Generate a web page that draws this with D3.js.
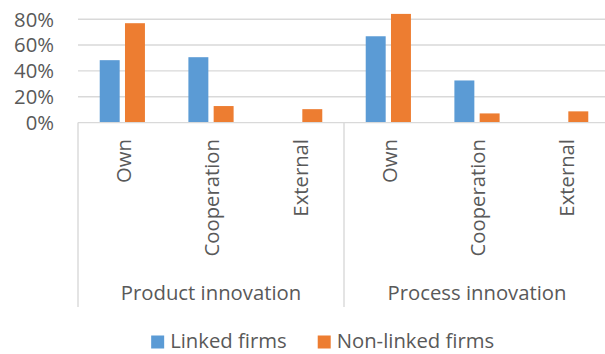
<!DOCTYPE html>
<html>
<head>
<meta charset="utf-8">
<script src="https://cdn.jsdelivr.net/npm/d3@7"></script>
<style>
  html, body { margin: 0; padding: 0; background: #fff; }
  text { font-family: "Open Sans", sans-serif; fill: #595959; }
</style>
</head>
<body>
<div id="chart"></div>
<script>
// data
const groups = ["Product innovation", "Process innovation"];
const categories = ["Own", "Cooperation", "External"];
const series = ["Linked firms", "Non-linked firms"];
const linkedValues = [48.3, 50.6, 0, 66.8, 32.6, 0];
const nonLinkedValues = [76.9, 12.8, 10.4, 84.1, 7.1, 8.7];
const yTicks = [0, 20, 40, 60, 80];
const colors = ["#5b9bd5", "#ed7d31"];

let width = 605, height = 354;
let fontSize = 20.3;

let svg = d3.select("#chart").append("svg")
    .attr("width", width)
    .attr("height", height);

// scales
let y = d3.scaleLinear().domain([0, 80]).range([122.6, 19.2]);
let xGroup = d3.scaleBand().domain(groups).range([78, 610]).padding(0);
let xCat = d3.scaleBand().domain(categories).range([0, xGroup.bandwidth()]).padding(0);
let xSeries = d3.scaleBand().domain(series).range([0, xCat.bandwidth()])
    .paddingInner(0.21).paddingOuter(0.86);

// flatten to rows
let rows = [];
groups.forEach(function(g, gi) {
    categories.forEach(function(c, ci) {
        let i = gi * categories.length + ci;
        rows.push({ group: g, cat: c, values: [linkedValues[i], nonLinkedValues[i]] });
    });
});

// gridlines
svg.append("g")
    .selectAll("line")
    .data(yTicks.filter(function(d) { return d > 0; }))
    .enter().append("line")
    .attr("x1", 78).attr("x2", 610)
    .attr("y1", function(d) { return y(d); })
    .attr("y2", function(d) { return y(d); })
    .attr("stroke", "#d9d9d9")
    .attr("stroke-width", 1.4);

// y labels
svg.append("g")
    .selectAll("text")
    .data(yTicks)
    .enter().append("text")
    .attr("x", 54)
    .attr("y", function(d) { return y(d); })
    .attr("dy", "0.36em")
    .attr("text-anchor", "end")
    .style("font-size", fontSize + "px")
    .text(function(d) { return d + "%"; });

// bars
let catG = svg.append("g")
    .selectAll("g")
    .data(rows)
    .enter().append("g")
    .attr("transform", function(d) {
        return "translate(" + (xGroup(d.group) + xCat(d.cat)) + ",0)";
    });

catG.selectAll("rect")
    .data(function(d) {
        return d.values.map(function(v, i) { return { s: series[i], v: v, i: i }; });
    })
    .enter().append("rect")
    .filter(function(d) { return d.v > 0; })
    .attr("x", function(d) { return xSeries(d.s); })
    .attr("width", xSeries.bandwidth())
    .attr("y", function(d) { return y(d.v); })
    .attr("height", function(d) { return y(0) - y(d.v); })
    .attr("fill", function(d) { return colors[d.i]; });

// category axis line
svg.append("line")
    .attr("x1", 78).attr("x2", 610)
    .attr("y1", y(0)).attr("y2", y(0))
    .attr("stroke", "#d9d9d9")
    .attr("stroke-width", 1.4);

// group separators
let sepX = groups.map(function(g) { return xGroup(g); }).concat([xGroup.range()[1]]);
svg.append("g")
    .selectAll("line")
    .data(sepX)
    .enter().append("line")
    .attr("x1", function(d) { return d; })
    .attr("x2", function(d) { return d; })
    .attr("y1", y(0))
    .attr("y2", 307)
    .attr("stroke", "#d9d9d9")
    .attr("stroke-width", 1.4);

// category labels (rotated)
catG.append("text")
    .attr("transform", "translate(" + (xCat.bandwidth() / 2 + 8.2) + ",139) rotate(-90)")
    .attr("text-anchor", "end")
    .style("font-size", fontSize + "px")
    .text(function(d) { return d.cat; });

// group labels
svg.append("g")
    .selectAll("text")
    .data(groups)
    .enter().append("text")
    .attr("x", function(d) { return xGroup(d) + xGroup.bandwidth() / 2; })
    .attr("y", 300)
    .attr("text-anchor", "middle")
    .style("font-size", fontSize + "px")
    .text(function(d) { return d; });

// legend
let legend = svg.append("g");
let items = legend.selectAll("g")
    .data(series)
    .enter().append("g");

items.append("rect")
    .attr("width", 13).attr("height", 13)
    .attr("y", 335.5)
    .attr("fill", function(d, i) { return colors[i]; });

items.append("text")
    .attr("x", 19)
    .attr("y", 348.3)
    .style("font-size", fontSize + "px")
    .text(function(d) { return d; });

// lay the legend items out side by side, centred like the reference
let gap = 31;
let widths = [];
items.each(function() {
    widths.push(19 + d3.select(this).select("text").node().getComputedTextLength());
});
let total = d3.sum(widths) + gap * (widths.length - 1);
let lx = 322.7 - total / 2;
items.attr("transform", function(d, i) {
    let x = lx;
    lx += widths[i] + gap;
    return "translate(" + x + ",0)";
});
</script>
</body>
</html>
